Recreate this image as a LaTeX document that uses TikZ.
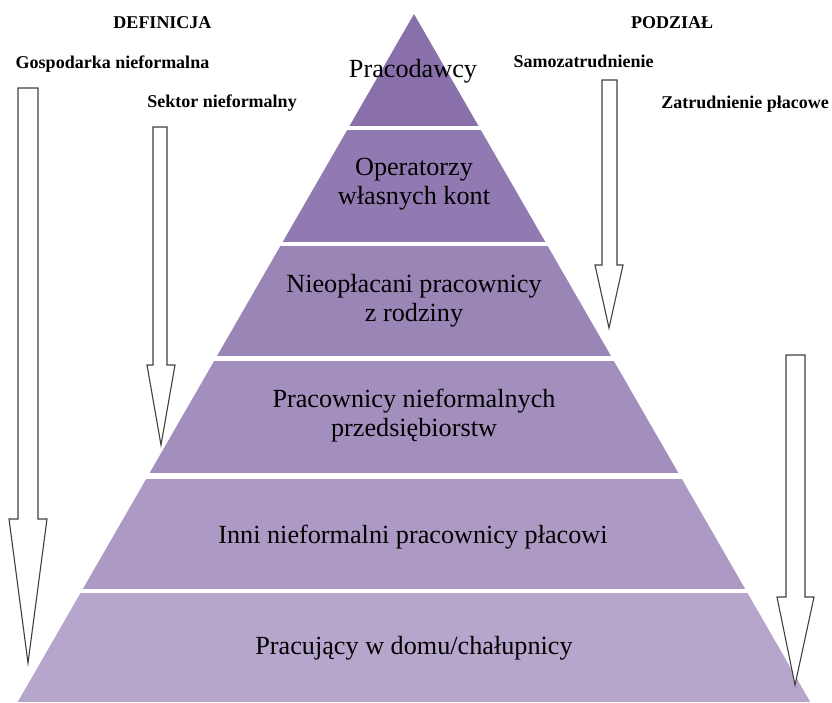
\documentclass[tikz,border=0pt]{standalone}
\usepackage{fontspec}
\setmainfont{Liberation Serif}
\usetikzlibrary{positioning}

\definecolor{lay1}{HTML}{8A70AB}
\definecolor{lay2}{HTML}{917AB1}
\definecolor{lay3}{HTML}{9A85B7}
\definecolor{lay4}{HTML}{A28FBD}
\definecolor{lay5}{HTML}{AC9AC4}
\definecolor{lay6}{HTML}{B7A6CC}

\begin{document}
\begin{tikzpicture}[x=1pt,y=-1pt,
  lab/.style={align=center,font=\fontsize{26.2}{29}\selectfont},
  head/.style={anchor=base,font=\fontsize{18}{20}\selectfont\bfseries},
  blockar/.style={draw=black!75,line width=1.1pt,fill=white,line join=miter}]
\useasboundingbox (0,0) rectangle (832,702);
% pyramid layers
\begin{scope}
\clip (17.7,702) -- (414,14) -- (810.3,702) -- cycle;
\fill[lay1] (0,0) rectangle (832,126);
\fill[lay2] (0,130) rectangle (832,242);
\fill[lay3] (0,246) rectangle (832,356);
\fill[lay4] (0,361) rectangle (832,473);
\fill[lay5] (0,479) rectangle (832,589);
\fill[lay6] (0,593) rectangle (832,702);
\end{scope}
\node[lab] (emp) at (413,71) {Pracodawcy};
\node[lab] (own) at (414,184) {Operatorzy\\własnych kont};
\node[lab] (fam) at (414,301) {Nieopłacani pracownicy\\z rodziny};
\node[lab] (ent) at (414,416) {Pracownicy nieformalnych\\przedsiębiorstw};
\node[lab] (paid) at (413,537) {Inni nieformalni pracownicy płacowi};
\node[lab] (home) at (414,648) {Pracujący w domu/chałupnicy};
% headings
\node[head] (def) at (162.5,28) {DEFINICJA};
\node[head] (econ) at (112.5,68) {Gospodarka nieformalna};
\node[head] (sect) at (222,107) {Sektor nieformalny};
\node[head] (div) at (672,28) {PODZIAŁ};
\node[head] (self) at (583.5,67) {Samozatrudnienie};
\node[head] (wage) at (745,108) {Zatrudnienie płacowe};
% arrows
\draw[blockar] (18,88) -- (38,88) -- (38,519) -- (47,519) -- (28,663)
  -- (9,519) -- (18,519) -- cycle;
\draw[blockar] (153,127) -- (167,127) -- (167,365) -- (175,365) -- (161,445)
  -- (147,365) -- (153,365) -- cycle;
\draw[blockar] (602,80) -- (617,80) -- (617,265) -- (623,265) -- (609,328)
  -- (595,265) -- (602,265) -- cycle;
\draw[blockar] (786,355) -- (805,355) -- (805,597) -- (814,597) -- (795,685)
  -- (777,597) -- (786,597) -- cycle;
\end{tikzpicture}
\end{document}
